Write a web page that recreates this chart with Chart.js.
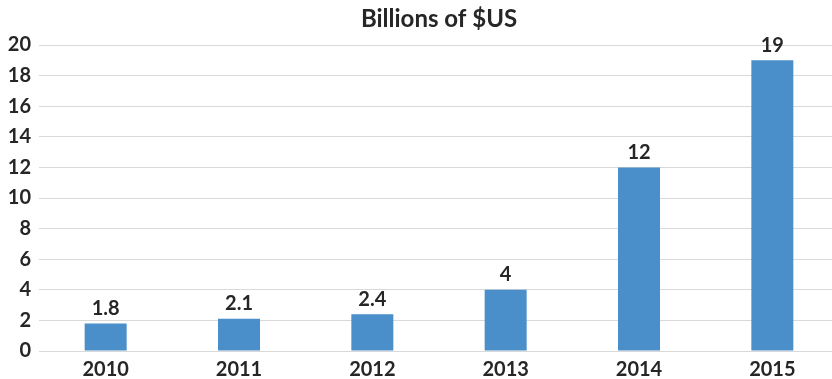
<!DOCTYPE html>
<html>
<head>
<meta charset="utf-8">
<script src="https://cdn.jsdelivr.net/npm/chart.js@4"></script>
<style>
  body { margin: 0; overflow: hidden; background: #fff; }
  #wrap { width: 840px; height: 379px; }
</style>
</head>
<body>
<div id="wrap"><canvas id="barchart"></canvas></div>
<script>
const years = ['2010', '2011', '2012', '2013', '2014', '2015'];
const billions = [1.8, 2.1, 2.4, 4, 12, 19];
const yTicks = [0, 2, 4, 6, 8, 10, 12, 14, 16, 18, 20];
const chartTitle = 'Billions of $US';

const textColor = '#262626';
const fontFamily = 'Lato, "Open Sans", sans-serif';

// value labels above bars + title centred over the plot
const labelsPlugin = {
    id: 'labelsPlugin',
    afterDatasetsDraw(chart) {
        const ctx = chart.ctx;
        const meta = chart.getDatasetMeta(0);
        ctx.save();
        ctx.fillStyle = textColor;
        ctx.font = 'bold 20px ' + fontFamily;
        ctx.textAlign = 'center';
        ctx.textBaseline = 'middle';
        meta.data.forEach((bar, i) => {
            ctx.fillText(String(billions[i]), bar.x, bar.y - 15);
        });
        const area = chart.chartArea;
        ctx.font = 'bold 24px ' + fontFamily;
        ctx.fillText(chartTitle, (area.left + area.right) / 2, 19);
        ctx.restore();
    }
};

const ctx = document.getElementById('barchart').getContext('2d');
const myChart = new Chart(ctx, {
    type: 'bar',
    data: {
        labels: years,
        datasets: [{
            data: billions,
            backgroundColor: '#4a8fc9',
            categoryPercentage: 1,
            barPercentage: 0.315
        }]
    },
    options: {
        responsive: true,
        maintainAspectRatio: false,
        animation: false,
        layout: { padding: { top: 45, right: 1, left: 0, bottom: 0 } },
        plugins: {
            legend: { display: false },
            tooltip: { enabled: false }
        },
        scales: {
            x: {
                grid: { display: false, drawTicks: false },
                border: { display: false },
                afterFit: scale => { scale.height = 28; },
                ticks: {
                    color: textColor,
                    padding: 7,
                    font: { family: fontFamily, size: 20, weight: 'bold' }
                }
            },
            y: {
                min: yTicks[0],
                max: yTicks[yTicks.length - 1],
                afterBuildTicks: scale => { scale.ticks = yTicks.map(v => ({ value: v })); },
                afterFit: scale => { scale.width = 39; },
                grid: { color: '#d9d9d9', lineWidth: 1, drawTicks: false },
                border: { display: false },
                ticks: {
                    color: textColor,
                    padding: 8,
                    font: { family: fontFamily, size: 20, weight: 'bold' }
                }
            }
        }
    },
    plugins: [labelsPlugin]
});
</script>
</body>
</html>
